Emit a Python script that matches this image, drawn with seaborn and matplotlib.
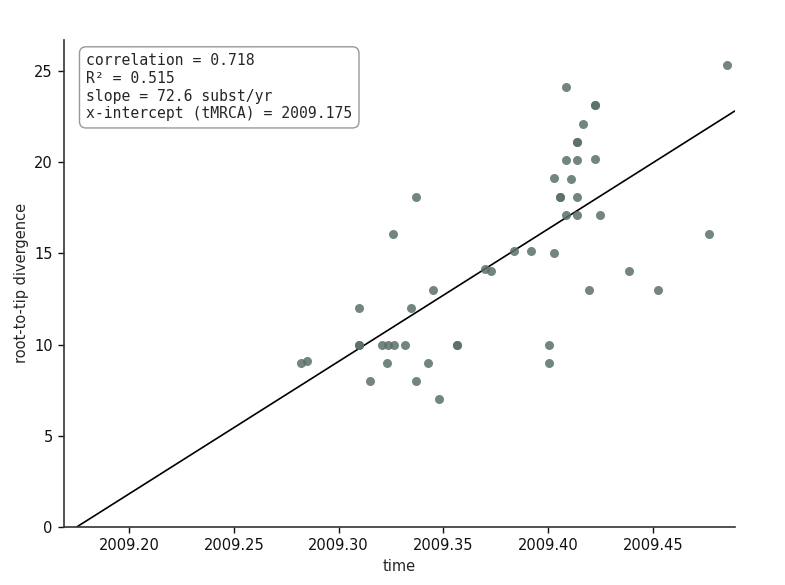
import numpy as np
import pandas as pd
import matplotlib
matplotlib.use("Agg")
import matplotlib.pyplot as plt
import seaborn as sns

# ---- data ----
time = [2009.282, 2009.285, 2009.3097, 2009.3097, 2009.3097, 2009.3151, 2009.3206,
        2009.3232, 2009.3234, 2009.3263, 2009.3261, 2009.3317, 2009.3344, 2009.3371,
        2009.3371, 2009.3425, 2009.3452, 2009.348, 2009.3563, 2009.3563, 2009.3699,
        2009.3727, 2009.3838, 2009.3918, 2009.4029, 2009.4002, 2009.4002, 2009.4028,
        2009.4056, 2009.4056, 2009.4084, 2009.4084, 2009.4084, 2009.4111, 2009.4139,
        2009.4139, 2009.4139, 2009.4139, 2009.4139, 2009.4164, 2009.4193, 2009.4222,
        2009.4223, 2009.4223, 2009.4247, 2009.4386, 2009.4522, 2009.4769, 2009.4852]
divergence = [9.0, 9.1, 12.0, 10.0, 10.0, 8.0, 10.0,
              9.0, 10.0, 10.0, 16.05, 10.0, 12.0, 18.1,
              8.0, 9.0, 13.0, 7.0, 10.0, 10.0, 14.15,
              14.05, 15.1, 15.1, 15.0, 10.0, 9.0, 19.1,
              18.1, 18.1, 24.1, 20.1, 17.1, 19.05, 21.1,
              21.1, 20.1, 18.1, 17.1, 22.1, 13.0, 20.15,
              23.1, 23.1, 17.1, 14.05, 13.0, 16.05, 25.3]

correlation = 0.718
r_squared = 0.515
slope = 72.6
tmrca = 2009.175

x_ticks = [2009.20, 2009.25, 2009.30, 2009.35, 2009.40, 2009.45]
x_tick_labels = ["2009.20", "2009.25", "2009.30", "2009.35", "2009.40", "2009.45"]
y_ticks = [0, 5, 10, 15, 20, 25]

df = pd.DataFrame({"time": time, "root-to-tip divergence": divergence})

sns.set_style("ticks")
plt.rcParams["font.family"] = ["DejaVu Sans"]

fig, ax = plt.subplots(figsize=(7.85, 5.85), dpi=100)
fig.subplots_adjust(left=0.0815, right=0.936, top=0.932, bottom=0.099)

xmin, xmax = 2009.169, 2009.489

sns.scatterplot(data=df, x="time", y="root-to-tip divergence", ax=ax,
                color="#597067", alpha=0.85, s=42, linewidth=0, zorder=3)

x_line = np.array([tmrca, xmax])
y_line = slope * (x_line - tmrca)
ax.plot(x_line, y_line, color="black", lw=1.2, zorder=2)

ax.set_xlim(xmin, xmax)
ax.set_ylim(0, 26.7)
ax.set_xticks(x_ticks)
ax.set_xticklabels(x_tick_labels)
ax.set_yticks(y_ticks)
ax.tick_params(labelsize=10.5, colors="#111111", length=4.5, width=1.0)
ax.set_xlabel("time", fontsize=10.5)
ax.set_ylabel("root-to-tip divergence", fontsize=10.5)
for sp in ["left", "bottom"]:
    ax.spines[sp].set_color("#333333")
    ax.spines[sp].set_linewidth(1.2)
sns.despine(ax=ax)

stats_text = (f"correlation = {correlation:.3f}\n"
              f"R² = {r_squared:.3f}\n"
              f"slope = {slope:.1f} subst/yr\n"
              f"x-intercept (tMRCA) = {tmrca:.3f}")
ax.text(0.033, 0.972, stats_text, transform=ax.transAxes, va="top", ha="left",
        family="DejaVu Sans Mono", fontsize=10.6, linespacing=1.22,
        bbox=dict(boxstyle="round,pad=0.45", facecolor="white", edgecolor="#999999", lw=1.0))

fig.savefig("out.png", dpi=100)
